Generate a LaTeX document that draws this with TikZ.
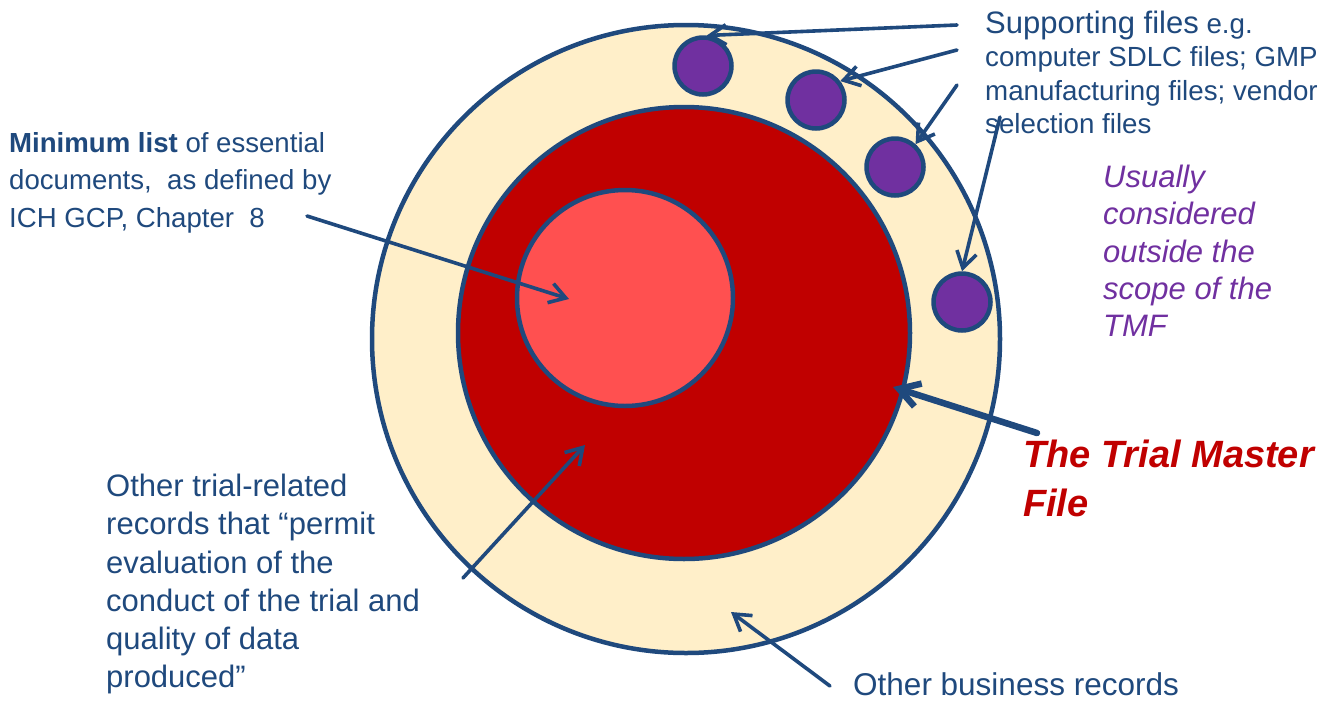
\documentclass[tikz,border=0pt]{standalone}
\usepackage{fontspec}
\setmainfont{Liberation Sans}
\usetikzlibrary{arrows.meta}
\definecolor{darkblue}{RGB}{31,73,125}
\definecolor{paleyellow}{RGB}{255,239,201}
\definecolor{darkred}{RGB}{192,0,0}
\definecolor{lightred}{RGB}{255,80,80}
\definecolor{filepurple}{RGB}{112,48,160}

\begin{document}
\begin{tikzpicture}[x=1pt, y=-1pt, >={Straight Barb[length=16pt,width=20pt]},
    ring/.style={circle, draw=darkblue, line width=4.5pt, inner sep=0pt},
    pointer/.style={->, darkblue, line width=3.6pt, line cap=round, line join=round},
    note/.style={anchor=north west, inner sep=0pt, align=left, text=darkblue}]

    \useasboundingbox (0,0) rectangle (1331,702);

    % Nested records
    \node[ring, fill=paleyellow, minimum size=628pt] (business) at (686,339) {};
    \node[ring, fill=darkred, minimum size=452pt] (tmf) at (684,333) {};
    \node[ring, fill=lightred, minimum size=216pt] (essential) at (625,298) {};

    % Supporting files
    \foreach \name/\x/\y in {sf1/703/66, sf2/816/100, sf3/895/167, sf4/962/302}
        \node[ring, fill=filepurple, minimum size=57pt] (\name) at (\x,\y) {};

    % Texts
    \node[note, font=\fontsize{27.6}{37.5}\selectfont] (minlist) at (9,132)
        {\textbf{Minimum list} of essential\\documents,\ \ as defined by\\ICH GCP, Chapter\ \ 8};
    \node[note, font=\fontsize{27.7}{33.3}\selectfont] (supp) at (985,11)
        {{\fontsize{31}{33.3}\selectfont Supporting files} e.g.\\computer SDLC files; GMP\\manufacturing files; vendor\\selection files};
    \node[note, text=filepurple, font=\fontsize{31}{37.2}\selectfont\itshape] (outside) at (1103,165)
        {Usually\\considered\\outside the\\scope of the\\TMF};
    \node[note, font=\fontsize{31}{38.2}\selectfont] (othertrial) at (106,474)
        {Other trial-related\\records that ``permit\\evaluation of the\\conduct of the trial and\\quality of data\\produced''};
    \node[note, font=\fontsize{31.5}{38}\selectfont] (otherbiz) at (853,672) {Other business records};
    \node[note, text=darkred, font=\fontsize{38}{49}\selectfont\bfseries\itshape] (tmftext) at (1023,440)
        {The Trial Master\\File};

    % Arrow ends
    \coordinate (minlist-from) at (307,216);
    \coordinate (essential-tip) at (569,299);
    \coordinate (othertrial-from) at (463,578);
    \coordinate (tmf-tip) at (585,445);
    \coordinate (otherbiz-from) at (830,686);
    \coordinate (business-tip) at (731,612);
    \coordinate (tmftext-from) at (1037,433);
    \coordinate (tmf-edge) at (893,387);
    \coordinate (supp-a) at (957,25);
    \coordinate (supp-b) at (957,50);
    \coordinate (supp-c) at (957,85);
    \coordinate (supp-d) at (1000,117);

    % Arrows
    \draw[pointer] (minlist-from) -- (essential-tip);
    \draw[pointer] (othertrial-from) -- (tmf-tip);
    \draw[pointer] (otherbiz-from) -- (business-tip);
    \draw[pointer, line width=6.5pt, -{Straight Barb[length=20pt,width=24pt]}] (tmftext-from) -- (tmf-edge);
    \draw[pointer] (supp-a) -- (sf1.83);
    \draw[pointer] (supp-b) -- (sf2.38);
    \draw[pointer] (supp-c) -- (sf3.48);
    \draw[pointer] (supp-d) -- (sf4.90);
\end{tikzpicture}
\end{document}
